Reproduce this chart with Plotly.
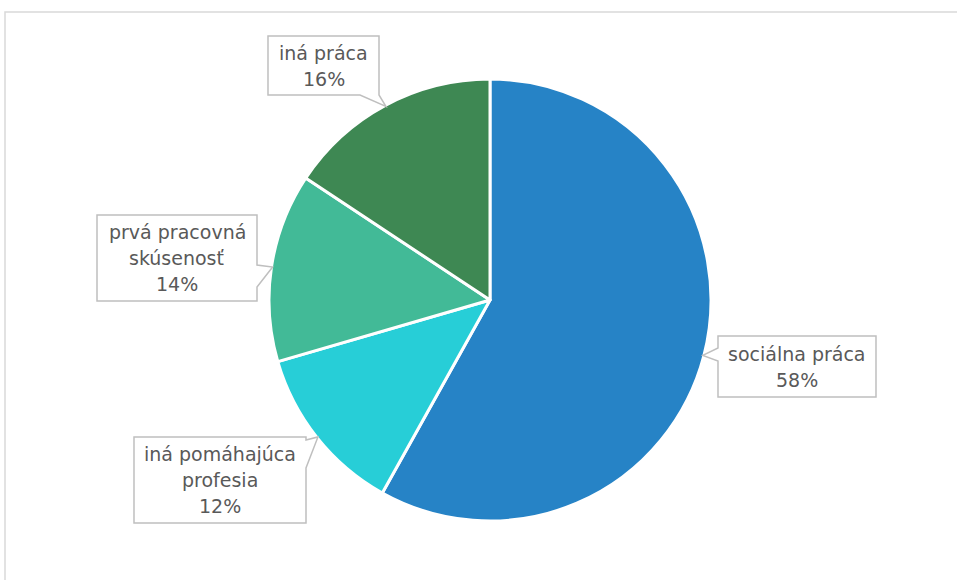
import math
import plotly.graph_objects as go

# ---- data ----
categories = ["sociálna práca", "iná pomáhajúca profesia", "prvá pracovná skúsenosť", "iná práca"]
label_lines = [["sociálna práca"], ["iná pomáhajúca", "profesia"], ["prvá pracovná", "skúsenosť"], ["iná práca"]]
values = [58.1, 12.4, 13.8, 15.7]
colors = ["#2683C6", "#27CED7", "#42BA97", "#3E8853"]

W, H = 957, 580
CX, CY, R = 490, 300, 221
LINE_H = 26

# callout boxes (pixel coords): x0, y0, x1, y1, notch side, notch base a, notch base b
boxes = [
    (718, 336, 876, 397, "left", 348, 361),
    (134, 437, 306, 523, "right", 440, 468),
    (97, 215, 257, 301, "right", 265, 287),
    (268, 36, 379, 95, "bottom", 360, 379),
]

def px(x):
    return x / W

def py(y):
    return 1 - y / H

fig = go.Figure(go.Pie(
    labels=categories,
    values=values,
    sort=False,
    direction="clockwise",
    rotation=0,
    marker=dict(colors=colors, line=dict(color="white", width=3)),
    textinfo="none",
    hoverinfo="label+percent",
    domain=dict(x=[px(CX - R), px(CX + R)], y=[py(CY + R), py(CY - R)]),
))

shapes = [dict(type="rect", xref="paper", yref="paper",
               x0=px(5), y0=py(12), x1=1.05, y1=-0.05,
               line=dict(color="#D9D9D9", width=1.5), fillcolor="rgba(0,0,0,0)", layer="below")]
annotations = []
total = sum(values)
cum = 0
for i, v in enumerate(values):
    mid = (cum + v / 2) / total * 2 * math.pi
    cum += v
    tx = CX + R * 0.995 * math.sin(mid)
    ty = CY - R * 0.995 * math.cos(mid)
    x0, y0, x1, y1, side, a, b = boxes[i]
    if side == "left":
        pts = [(x0, y0), (x1, y0), (x1, y1), (x0, y1), (x0, b), (tx, ty), (x0, a)]
    elif side == "right":
        pts = [(x0, y0), (x1, y0), (x1, a), (tx, ty), (x1, b), (x1, y1), (x0, y1)]
    else:  # bottom
        pts = [(x0, y0), (x1, y0), (x1, y1), (b, y1), (tx, ty), (a, y1), (x0, y1)]
    path = "M " + " L ".join(f"{px(x):.5f},{py(y):.5f}" for x, y in pts) + " Z"
    shapes.append(dict(type="path", xref="paper", yref="paper", path=path,
                       fillcolor="white", line=dict(color="#BFBFBF", width=1.5)))
    lines = label_lines[i] + [f"{round(v / total * 100)}%"]
    n = len(lines)
    cyb = (y0 + y1) / 2
    for k, line in enumerate(lines):
        ly = cyb + (k - (n - 1) / 2) * LINE_H
        annotations.append(dict(xref="paper", yref="paper",
                                x=px((x0 + x1) / 2), y=py(ly),
                                xanchor="center", yanchor="middle",
                                text=line, showarrow=False,
                                font=dict(family="DejaVu Sans", size=19, color="#595959")))

fig.update_layout(
    width=W, height=H,
    margin=dict(l=0, r=0, t=0, b=0),
    paper_bgcolor="white",
    plot_bgcolor="white",
    showlegend=False,
    shapes=shapes,
    annotations=annotations,
)

fig.write_html("out.html")
